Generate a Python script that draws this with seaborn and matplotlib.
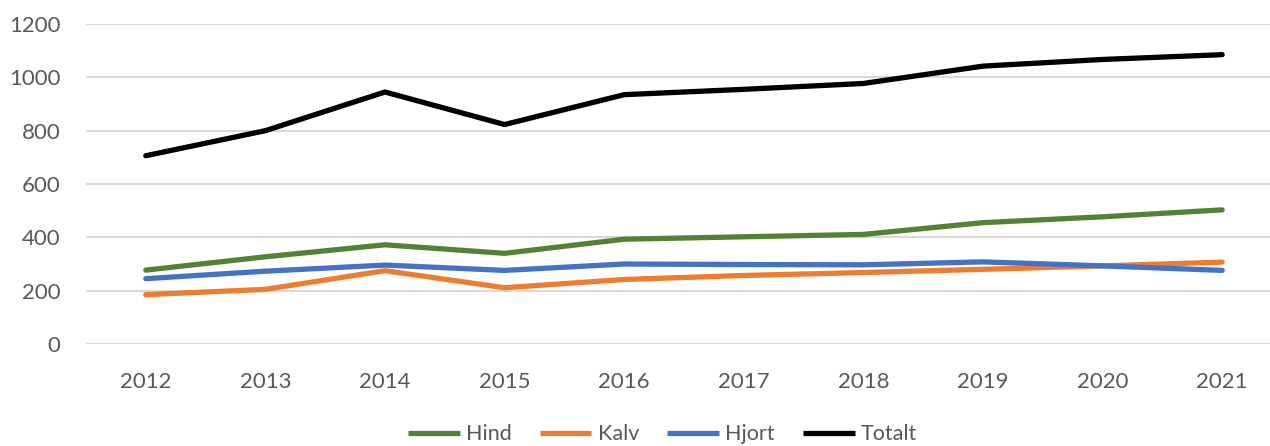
import matplotlib
matplotlib.use("Agg")
import matplotlib.pyplot as plt
import seaborn as sns
import pandas as pd

years = ["2012", "2013", "2014", "2015", "2016", "2017", "2018", "2019", "2020", "2021"]
hind = [277, 327, 372, 340, 393, 402, 411, 455, 477, 503]
kalv = [185, 205, 275, 211, 242, 257, 268, 280, 293, 307]
hjort = [245, 273, 296, 276, 300, 298, 297, 308, 293, 276]
totalt = [706, 800, 945, 823, 935, 955, 977, 1042, 1067, 1085]

series_names = ["Hind", "Kalv", "Hjort", "Totalt"]
colors = ["#548235", "#ED7D31", "#4472C4", "#000000"]

df = pd.DataFrame({"Year": years * 4,
                   "Value": hind + kalv + hjort + totalt,
                   "Series": [n for n in series_names for _ in years]})

sns.set_theme(style="white")
plt.rcParams['font.family'] = ['Lato', 'DejaVu Sans']

fig = plt.figure(figsize=(12.7, 4.46), dpi=100)
ax = fig.add_axes([86/1270, 1 - 344/446, (1270-86)/1270, 320/446])

sns.lineplot(data=df, x="Year", y="Value", hue="Series", palette=colors,
             linewidth=3.8, ax=ax, sort=False)

ax.set_ylim(0, 1200)
ax.set_xlim(-0.5, 9.4)
ax.set_yticks(range(0, 1201, 200))
ax.grid(axis="y", color="#d9d9d9", linewidth=1.5)
ax.grid(axis="x", visible=False)
ax.set_axisbelow(True)
for s in ax.spines.values():
    s.set_visible(False)
ax.set_xlabel("")
ax.set_ylabel("")
ax.tick_params(axis="both", length=0, labelsize=16, colors="#595959")
ax.tick_params(axis="y", pad=18.5)
ax.tick_params(axis="x", pad=20)

leg = ax.legend(loc="center", bbox_to_anchor=(0.487, -0.282), ncol=4, frameon=False,
                fontsize=15.5, handlelength=2.4, columnspacing=1.3, handletextpad=0.3,
                labelcolor="#595959", borderpad=0)
for h in leg.legend_handles:
    h.set_solid_capstyle("butt")

fig.savefig("out.png", dpi=100)
